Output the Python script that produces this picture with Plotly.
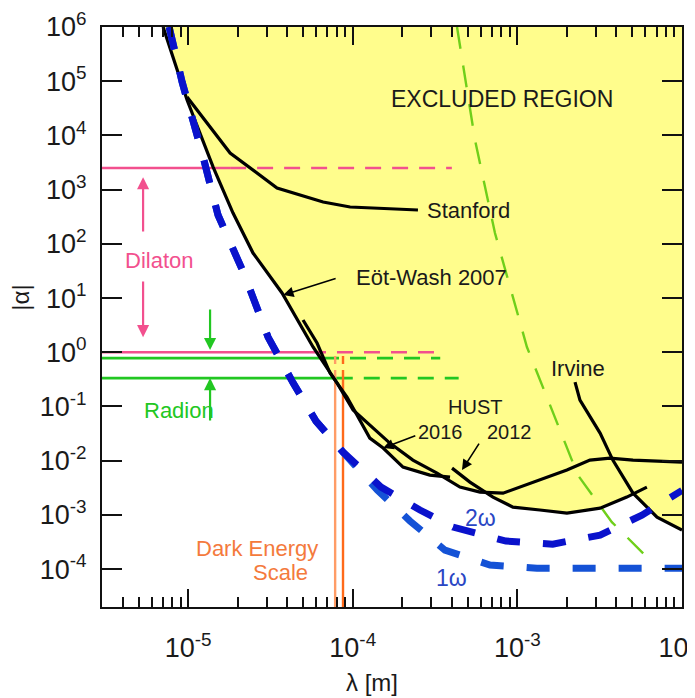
import numpy as np
import plotly.graph_objects as go

# ---------------- data ----------------
# Eöt-Wash 2007
ew_lam = [7.05e-6, 8.93e-6, 9.86e-6, 1.42e-5, 1.875e-5, 2.48e-5, 3.72e-5, 5.74e-5,
          8.04e-5, 1.005e-4, 1.27e-4, 1.68e-4, 2.32e-4, 3.25e-4, 4.48e-4, 5.93e-4,
          8.18e-4, 1.04e-3, 2.0e-3, 2.76e-3, 3.65e-3, 5.04e-3, 1.0e-2]
ew_alpha = [1e6, 1.05e5, 4.5e4, 2.61e3, 370, 67.6, 12.4, 1.25,
            0.270, 0.0859, 0.0454, 0.0211, 0.01026, 5.9e-3, 3.26e-3, 2.64e-3,
            2.52e-3, 3.26e-3, 6.71e-3, 1.026e-2, 1.117e-2, 1.026e-2, 9.42e-3]

# Stanford
st_lam = [9.86e-6, 1.80e-5, 3.47e-5, 6.61e-5, 9.64e-5, 1.365e-4, 2.49e-4]
st_alpha = [5.1e4, 4.73e3, 1.07e3, 590, 478, 458, 421]

# HUST 2016
h16_lam = [4.99e-5, 6.07e-5, 7.28e-5, 9.23e-5, 1.27e-4, 1.53e-4, 2.02e-4, 2.94e-4, 3.90e-4]
h16_alpha = [3.93, 1.48, 0.413, 0.149, 0.0261, 0.0171, 7.62e-3, 5.42e-3, 4.98e-3]

# HUST 2012
h12_lam = [4.01e-4, 5.15e-4, 7.11e-4, 9.40e-4, 1.37e-3, 2.0e-3, 3.18e-3, 4.62e-3, 6.12e-3]
h12_alpha = [7.29e-3, 4.03e-3, 2.13e-3, 1.39e-3, 1.23e-3, 1.08e-3, 1.33e-3, 2.13e-3, 3.26e-3]

# Irvine
irv_lam = [2.24e-3, 2.40e-3, 3.18e-3, 3.80e-3, 5.04e-3, 7.05e-3, 1.0e-2]
irv_alpha = [0.282, 0.131, 0.0323, 1.026e-2, 2.52e-3, 9.1e-4, 5.25e-4]

# projected sensitivities
w2_lam = [7.67e-6, 9.20e-6, 1.216e-5, 1.52e-5, 2.19e-5, 3.06e-5, 4.35e-5, 5.98e-5, 8.73e-5,
          1.486e-4, 2.56e-4, 4.06e-4, 8.53e-4, 1.64e-3, 3.18e-3, 5.71e-3, 1.0e-2]
w2_alpha = [1e6, 9.66e4, 4.73e3, 340, 27.7, 1.905, 0.270, 0.0538, 0.0144,
            3.26e-3, 1.23e-3, 5.96e-4, 3.29e-4, 2.89e-4, 4.24e-4, 9.9e-4, 2.82e-3]
w1_lam = [7.67e-6, 9.20e-6, 1.216e-5, 1.52e-5, 2.19e-5, 3.06e-5, 4.35e-5, 5.98e-5, 8.73e-5,
          1.41e-4, 2.23e-4, 3.63e-4, 6.82e-4, 1.315e-3, 1.0e-2]
w1_alpha = [1e6, 9.66e4, 4.73e3, 340, 27.7, 1.905, 0.270, 0.0538, 0.0144,
            2.87e-3, 7.69e-4, 2.24e-4, 1.19e-4, 1.04e-4, 1.04e-4]

# green dashed curve
gd_lam = [4.30e-4, 5.53e-4, 7.31e-4, 1.143e-3, 2.33e-3, 3.75e-3, 6.21e-3]
gd_alpha = [1e6, 8.22e3, 158, 1.25, 5.42e-3, 7.36e-4, 1.60e-4]

# Dilaton / Radion levels: [alpha, lambda_left, lambda_solid_end, lambda_dash_end]
dil_hi = [2.5e3, 3.0e-6, 1.8e-5, 4.0e-4]
dil_lo = [1.0, 3.0e-6, 5.5e-5, 3.4e-4]
rad_hi = [0.78, 3.0e-6, 6.6e-5, 3.4e-4]
rad_lo = [0.334, 3.0e-6, 8.0e-5, 4.4e-4]

# Dark energy scale lines: lambda values, alpha bottom, solid top, dashed top
de_lam = [7.82e-5, 8.73e-5]
de_alpha = [2.0e-5, 0.334, 1.1]

# axis ranges and ticks
x_range = [3.0e-6, 1.0e-2]
y_range = [2.0e-5, 1.0e6]
x_tickvals = [1e-5, 1e-4, 1e-3, 1e-2]
x_ticktext = ["10<sup>-5</sup>", "10<sup>-4</sup>", "10<sup>-3</sup>", "10<sup>-2</sup>"]
y_tickvals = [1e-4, 1e-3, 1e-2, 1e-1, 1e0, 1e1, 1e2, 1e3, 1e4, 1e5, 1e6]
y_ticktext = ["10<sup>-4</sup>", "10<sup>-3</sup>", "10<sup>-2</sup>", "10<sup>-1</sup>",
              "10<sup>0</sup>", "10<sup>1</sup>", "10<sup>2</sup>", "10<sup>3</sup>",
              "10<sup>4</sup>", "10<sup>5</sup>", "10<sup>6</sup>"]

# labels: text, lambda, alpha, font size
labels_black = [("EXCLUDED REGION", 8.07e-4, 4.7e4, 23),
                ("Eöt-Wash 2007", 3.03e-4, 24.4, 22),
                ("Irvine", 2.33e-3, 0.51, 22),
                ("HUST", 5.53e-4, 0.0975, 20),
                ("2016", 3.39e-4, 0.0337, 20),
                ("2012", 9.02e-4, 0.0337, 20)]

# arrows: (tip lambda, tip alpha, tail lambda, tail alpha)
black_arrows = [(3.78e-5, 11.35, 8.04e-5, 23.4),
                (1.53e-4, 0.0171, 2.45e-4, 0.0296),
                (4.61e-4, 6.7e-3, 5.93e-4, 0.022)]
pink_arrows = [(5.33e-6, 1.7e3, 5.33e-6, 158), (5.33e-6, 1.9, 5.33e-6, 21.5)]
green_arrows = [(1.36e-5, 1.1, 1.36e-5, 6.53), (1.36e-5, 0.334, 1.36e-5, 0.0515)]

FONT = "Liberation Sans, Arial, Helvetica, sans-serif"
PINK = "#f2508e"
GREEN = "#22c722"
ORANGE = "#ff6a1a"
ORANGE_L = "#ff9c66"
DKBLUE = "#0a12cc"
BLUE = "#1452d6"

# ---------------- excluded region envelope ----------------
curves = [(ew_lam, ew_alpha), (st_lam, st_alpha), (h16_lam, h16_alpha),
          (h12_lam, h12_alpha), (irv_lam, irv_alpha)]
grid = np.linspace(np.log10(ew_lam[0]), np.log10(x_range[1]), 500)
stack = []
for lam, al in curves:
    stack.append(np.interp(grid, np.log10(lam), np.log10(al), left=np.nan, right=np.nan))
env = np.nanmin(np.vstack(stack), axis=0)
fill_x = list(10 ** grid) + [x_range[1], ew_lam[0]]
fill_y = list(10 ** env) + [y_range[1], y_range[1]]

fig = go.Figure()
fig.add_trace(go.Scatter(x=fill_x, y=fill_y, fill="toself", fillcolor="#fffd8c",
                         line=dict(width=0), mode="lines", hoverinfo="skip"))


def hline(level, color, width=2.6, dash_pat="16px,11px"):
    a, l0, l1, l2 = level
    fig.add_trace(go.Scatter(x=[l0, l1], y=[a, a], mode="lines",
                             line=dict(color=color, width=width)))
    fig.add_trace(go.Scatter(x=[l1, l2], y=[a, a], mode="lines",
                             line=dict(color=color, width=width, dash=dash_pat)))


hline(dil_hi, PINK)
hline(dil_lo, PINK)
hline(rad_hi, GREEN)
hline(rad_lo, GREEN)

for lam, col in zip(de_lam, [ORANGE_L, ORANGE]):
    fig.add_trace(go.Scatter(x=[lam, lam], y=[de_alpha[0], de_alpha[1]], mode="lines",
                             line=dict(color=col, width=2.4)))
    fig.add_trace(go.Scatter(x=[lam, lam], y=[de_alpha[1], de_alpha[2]], mode="lines",
                             line=dict(color=col, width=2.4, dash="8px,6px")))

fig.add_trace(go.Scatter(x=gd_lam, y=gd_alpha, mode="lines",
                         line=dict(color="#6fcf1a", width=2.4, dash="22px,17px")))

for lam, al in curves:
    fig.add_trace(go.Scatter(x=lam, y=al, mode="lines",
                             line=dict(color="black", width=3.2)))

fig.add_trace(go.Scatter(x=w1_lam, y=w1_alpha, mode="lines",
                         line=dict(color=BLUE, width=7, dash="23px,23px")))
fig.add_trace(go.Scatter(x=w2_lam, y=w2_alpha, mode="lines",
                         line=dict(color=DKBLUE, width=7, dash="23px,23px")))

ann = []
for txt, lx, ly, fs in labels_black:
    ann.append(dict(text=txt, x=np.log10(lx), y=np.log10(ly), showarrow=False,
                    font=dict(size=fs, color="#1a1a1a", family=FONT)))
ann.append(dict(text="Stanford", x=np.log10(2.75e-4), y=np.log10(421), xanchor="left",
                showarrow=False, font=dict(size=22, color="#1a1a1a", family=FONT)))
ann.append(dict(text="2ω", x=np.log10(5.93e-4), y=np.log10(8.7e-4), showarrow=False,
                font=dict(size=23, color="#2a46c4", family=FONT)))
ann.append(dict(text="1ω", x=np.log10(4.0e-4), y=np.log10(6.8e-5), showarrow=False,
                font=dict(size=23, color="#2a46c4", family=FONT)))
ann.append(dict(text="Dilaton", x=np.log10(6.67e-6), y=np.log10(50.2), showarrow=False,
                font=dict(size=22, color=PINK, family=FONT)))
ann.append(dict(text="Radion", x=np.log10(8.8e-6), y=np.log10(0.0859), showarrow=False,
                font=dict(size=22, color=GREEN, family=FONT)))
ann.append(dict(text="Dark Energy", x=np.log10(2.62e-5), y=np.log10(2.44e-4), showarrow=False,
                font=dict(size=22, color="#f47a3c", family=FONT)))
ann.append(dict(text="Scale", x=np.log10(3.62e-5), y=np.log10(8.8e-5), showarrow=False,
                font=dict(size=22, color="#f47a3c", family=FONT)))

for group, col, w in [(black_arrows, "black", 1.6), (pink_arrows, PINK, 2.2), (green_arrows, GREEN, 2.2)]:
    for tx, ty, sx, sy in group:
        ann.append(dict(x=np.log10(tx), y=np.log10(ty), ax=np.log10(sx), ay=np.log10(sy),
                        axref="x", ayref="y", xref="x", yref="y", text="", showarrow=True,
                        arrowhead=2, arrowsize=1.3 if col == "black" else 1.1,
                        arrowwidth=w, arrowcolor=col, standoff=0, startstandoff=0))

ann.append(dict(text="λ [m]", x=0.4655, y=-0.131, xref="paper", yref="paper",
                xanchor="center", yanchor="middle",
                showarrow=False, font=dict(size=24, color="#1a1a1a", family=FONT)))
ann.append(dict(text="|α|", x=-0.14, y=0.533, xref="paper", yref="paper", textangle=-90,
                xanchor="center", yanchor="middle",
                showarrow=False, font=dict(size=24, color="#1a1a1a", family=FONT)))

axis_common = dict(type="log", showline=True, linecolor="#111", linewidth=2, mirror="allticks",
                   ticks="inside", tickcolor="#111", tickwidth=2, showgrid=False, zeroline=False,
                   automargin=False, ticklabeloverflow="allow",
                   tickfont=dict(size=27, color="#1a1a1a", family=FONT))

# the page body adds an 8px offset, so the figure is sized to keep the plot area in place
fig.update_layout(
    width=687, height=690, margin=dict(l=94, r=13, t=19, b=91),
    paper_bgcolor="white", plot_bgcolor="white", showlegend=False,
    font=dict(family=FONT),
    xaxis=dict(range=[np.log10(x_range[0]), np.log10(x_range[1])], tickvals=x_tickvals,
               ticktext=x_ticktext, ticklen=18, ticklabelstandoff=16,
               minor=dict(ticks="inside", ticklen=10, tickwidth=1.6, tickcolor="#111",
                          dtick="D1", showgrid=False),
               **axis_common),
    yaxis=dict(range=[np.log10(y_range[0]), np.log10(y_range[1])], tickvals=y_tickvals,
               ticktext=y_ticktext, ticklen=20, ticklabelstandoff=8, **axis_common),
    annotations=ann,
)

fig.write_html("out.html")
